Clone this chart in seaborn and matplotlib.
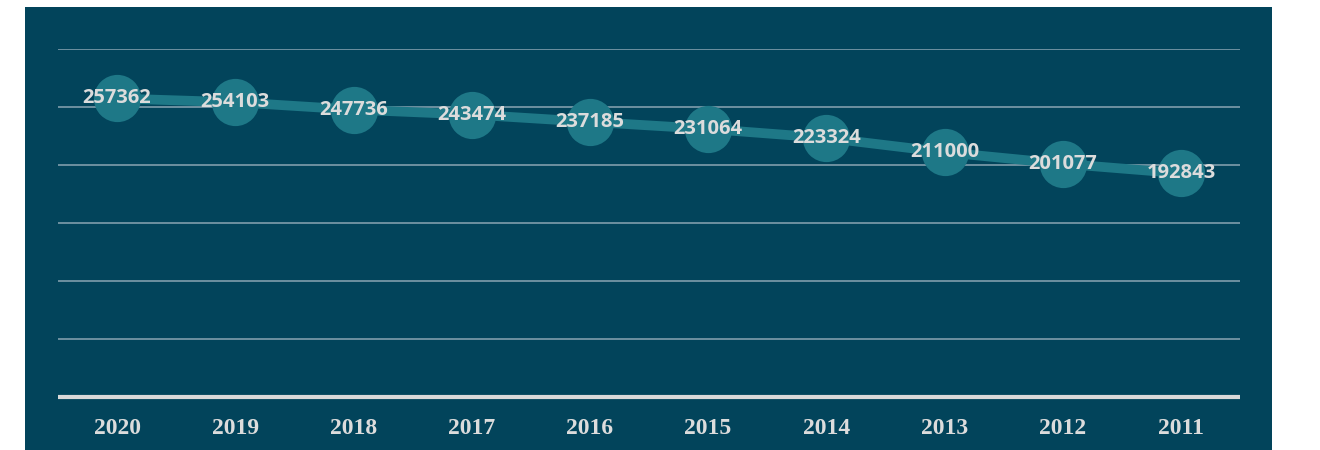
import numpy as np
import pandas as pd
import seaborn as sns
import matplotlib.pyplot as plt
from matplotlib.patches import Rectangle

years = ["2020", "2019", "2018", "2017", "2016", "2015", "2014", "2013", "2012", "2011"]
values = [257362, 254103, 247736, 243474, 237185, 231064, 223324, 211000, 201077, 192843]
yticks = [0, 50000, 100000, 150000, 200000, 250000, 300000]

df = pd.DataFrame({"year": years, "value": values})

bg = "#02445B"
teal = "#1E7887"
label_col = "#DCDCDC"

sns.set_style("white")
fig = plt.figure(figsize=(13.2, 4.5), dpi=100)
fig.patch.set_facecolor("white")

# dark panel behind the chart
fig.patches.append(Rectangle((25 / 1320, 0), (1272 - 25) / 1320, (450 - 7) / 450,
                             transform=fig.transFigure, facecolor=bg,
                             edgecolor="none", zorder=-1))

ax = fig.add_axes([58 / 1320, (450 - 397) / 450, (1240 - 58) / 1320, (397 - 49) / 450])
ax.set_zorder(1)
ax.set_facecolor("none")

sns.pointplot(data=df, x="year", y="value", order=years, color=teal,
              markersize=34, markeredgewidth=0, linewidth=7, ax=ax, zorder=3)

for i, v in enumerate(values):
    ax.text(i, v, str(v), ha="center", va="center", color=label_col,
            fontsize=14.5, fontweight="bold", family="Open Sans", zorder=5)

ax.set_ylim(0, 300000)
ax.set_xlim(-0.5, len(years) - 0.5)
ax.set_yticks(yticks)
for y in yticks[1:]:
    ax.axhline(y, color="#7F9EAC", linewidth=1.2, zorder=1)
ax.axhline(0, color="#D9D9D9", linewidth=3, zorder=2, clip_on=False,
           solid_capstyle="butt")

ax.set_yticklabels([])
ax.tick_params(axis="y", length=0)
ax.tick_params(axis="x", length=0, pad=15)
for lab in ax.get_xticklabels():
    lab.set_family("Liberation Serif")
    lab.set_fontweight("bold")
    lab.set_fontsize(17)
    lab.set_color(label_col)
ax.set_xlabel("")
ax.set_ylabel("")
for s in ax.spines.values():
    s.set_visible(False)

fig.savefig("out.png", dpi=100, facecolor="white")
